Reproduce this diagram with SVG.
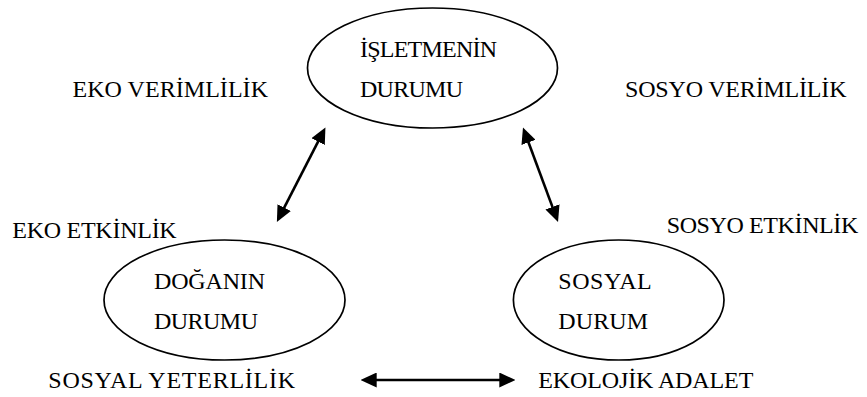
<svg xmlns="http://www.w3.org/2000/svg" width="867" height="397" viewBox="0 0 867 397">
<style>
  .n { fill: #fff; stroke: #000; stroke-width: 1.7; }
  .c { stroke: #000; stroke-width: 2.6; fill: none; marker-start: url(#ah); marker-end: url(#ah); }
</style>
<defs>
  <marker id="ah" viewBox="0 0 16 15" refX="5" refY="7.5" markerWidth="16" markerHeight="15" markerUnits="userSpaceOnUse" orient="auto-start-reverse">
    <path d="M0,0 L16,7.5 L0,15 z" fill="#000"/>
  </marker>
</defs>
<rect width="867" height="397" fill="#fff"/>
<g font-family="Times New Roman, Liberation Serif, Tinos, DejaVu Serif, serif" font-size="24" fill="#000">
<g id="labels">
  <text x="72.5" y="97" textLength="195.5" lengthAdjust="spacing">EKO VERİMLİLİK</text>
  <text x="625" y="97" textLength="221.5" lengthAdjust="spacing">SOSYO VERİMLİLİK</text>
  <text x="12.3" y="237.7" textLength="164.4" lengthAdjust="spacing">EKO ETKİNLİK</text>
  <text x="666.7" y="233.3" textLength="191.6" lengthAdjust="spacing">SOSYO ETKİNLİK</text>
  <text x="48.3" y="388.3" textLength="246.7" lengthAdjust="spacing">SOSYAL YETERLİLİK</text>
  <text x="538.3" y="388.3" textLength="215" lengthAdjust="spacing">EKOLOJİK ADALET</text>
</g>
<g id="isletme">
  <ellipse class="n" cx="432.5" cy="68" rx="125" ry="60"/>
  <text x="360" y="57" textLength="137" lengthAdjust="spacing">İŞLETMENİN</text>
  <text x="360" y="96.5" textLength="103" lengthAdjust="spacing">DURUMU</text>
</g>
<g id="doga">
  <ellipse class="n" cx="224.5" cy="300" rx="120.5" ry="60"/>
  <text x="154" y="289.3" textLength="111" lengthAdjust="spacing">DOĞANIN</text>
  <text x="154" y="329.3" textLength="104" lengthAdjust="spacing">DURUMU</text>
</g>
<g id="sosyal">
  <ellipse class="n" cx="618.7" cy="300" rx="105.3" ry="60"/>
  <text x="558.3" y="289.3" textLength="93.4" lengthAdjust="spacing">SOSYAL</text>
  <text x="558.3" y="329.3" textLength="89.7" lengthAdjust="spacing">DURUM</text>
</g>
</g>
<g id="connectors">
  <line class="c" x1="281.9" y1="212.1" x2="320.4" y2="137.2"/>
  <line class="c" x1="526.8" y1="137.7" x2="554.2" y2="211.6"/>
  <line class="c" x1="371.7" y1="380" x2="504.3" y2="380"/>
</g>
</svg>
